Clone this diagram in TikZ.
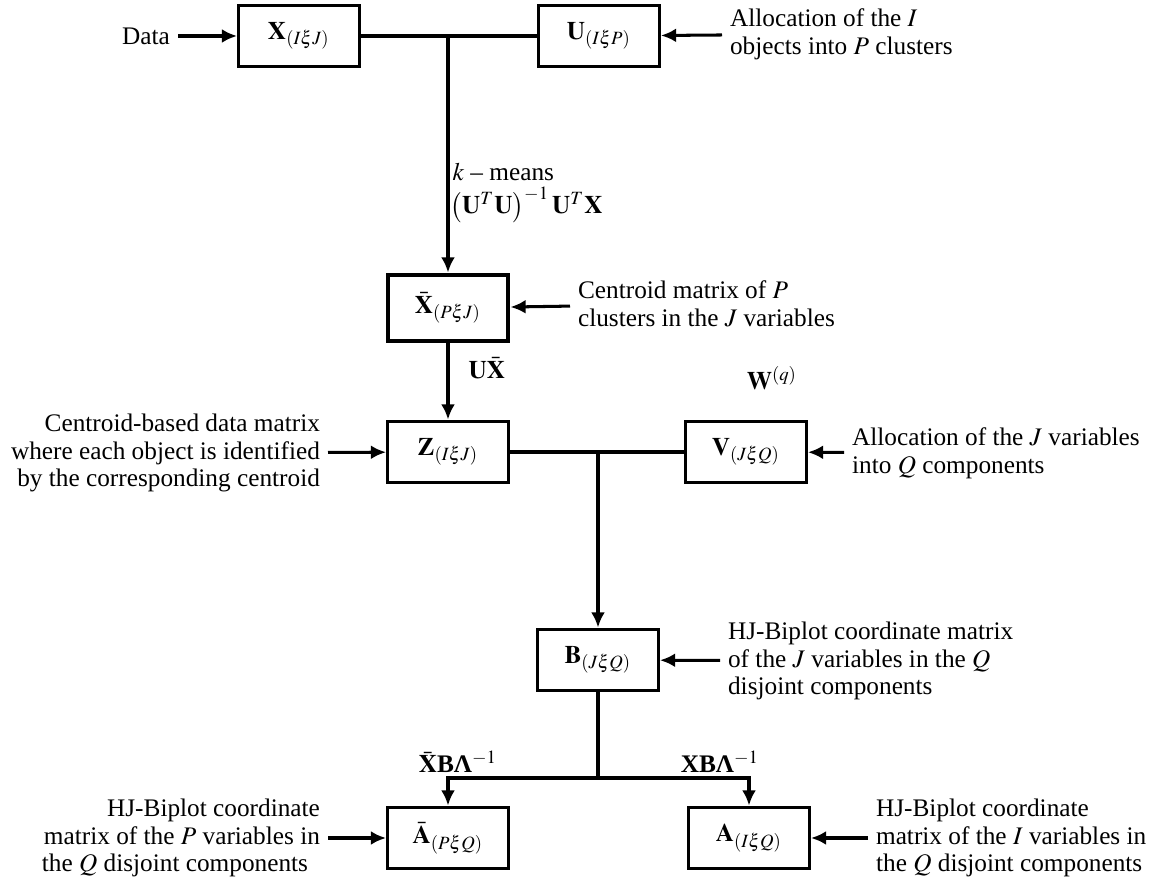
\documentclass[tikz,border=0pt]{standalone}
\usepackage{mathptmx}
\usepackage{fontspec}
\setmainfont{Liberation Serif}
\usepackage{tikz}
\usetikzlibrary{arrows.meta}

\begin{document}
\fontsize{10}{11}\selectfont
\begin{tikzpicture}[x = 0.0139cm, y = -0.0139cm]
        \tikzset{box/.style = {shape=rectangle,draw,very thick,minimum width=1.68cm,minimum height=0.86cm}}
        \tikzset{boxb/.style = {box,line width=1.6pt,minimum height=0.93cm}}
        \tikzset{txt/.style = {align=left,inner sep=3pt}}
        \tikzset{edge/.style = {very thick}}
        \tikzset{edged/.style = {-{Latex[length=6pt,width=5.5pt]}, very thick}}
        \useasboundingbox (0,0) rectangle (1173,887);
        % boxes
        \node[box] (X) at (299,36) {$\mathbf{X}_{(I\xi J)}$};
        \node[box] (U) at (599,36) {$\mathbf{U}_{(I\xi P)}$};
        \node[boxb] (Xb) at (448,308) {$\bar{\mathbf{X}}_{(P\xi J)}$};
        \node[box] (Z) at (448,452) {$\mathbf{Z}_{(I\xi J)}$};
        \node[box] (V) at (746,452) {$\mathbf{V}_{(J\xi Q)}$};
        \node[box] (B) at (598,660) {$\mathbf{B}_{(J\xi Q)}$};
        \node[box] (Ab) at (448,838) {$\bar{\mathbf{A}}_{(P\xi Q)}$};
        \node[box] (A) at (749,838) {$\mathbf{A}_{(I\xi Q)}$};

        % junctions
        \coordinate (j1) at (448,36);
        \coordinate (j2) at (598,452);
        \coordinate (j3) at (598,778);

        % texts
        \node[txt,anchor=east] (tData) at (178,36) {Data};
        \node[txt,anchor=west] (tU) at (722,34) {Allocation of the $I$\\ objects into $P$ clusters};
        \node[txt,anchor=west] (tXb) at (570,304) {Centroid matrix of $P$\\ clusters in the $J$ variables};
        \node[txt,anchor=east,align=right] (tZ) at (328,453) {Centroid-based data matrix\\ where each object is identified\\ by the corresponding centroid};
        \node[txt,anchor=west] (tV) at (844,453) {Allocation of the $J$ variables\\ into $Q$ components};
        \node[txt,anchor=west] (tB) at (720,661) {HJ-Biplot coordinate matrix\\ of the $J$ variables in the $Q$\\ disjoint components};
        \node[txt,anchor=east,align=right] (tAb) at (328,838) {HJ-Biplot coordinate\\ matrix of the $P$ variables in\\ the $Q$ disjoint components\hspace*{4.7pt}};
        \node[txt,anchor=west] (tA) at (868,838) {HJ-Biplot coordinate\\ matrix of the $I$ variables in\\ the $Q$ disjoint components};

        % edge labels
        \node[anchor=west,inner sep=0pt] (lk) at (452,172) {$k$ -- means};
        \node[anchor=west,inner sep=0pt] (lf) at (450,205) {$\left(\mathbf{U}^{T}\mathbf{U}\right)^{-1}\mathbf{U}^{T}\mathbf{X}$};
        \node[anchor=west,inner sep=0pt] (lux) at (468,368) {$\mathbf{U}\bar{\mathbf{X}}$};
        \node[inner sep=0pt] (lw) at (772,378) {$\mathbf{W}^{(q)}$};
        \node[inner sep=0pt] (lab) at (458,762) {$\bar{\mathbf{X}}$\textbf{BΛ}$^{-1}$};
        \node[inner sep=0pt] (la) at (720,762) {\textbf{XBΛ}$^{-1}$};

        %edges undirected
        \draw[edge] (X) to (U);
        \draw[edge] (Z) to (V);
        \draw[edge] (B) to (j3);
        %edges directed
        \draw[edged] (j1) to (Xb);
        \draw[edged] (Xb) to (Z);
        \draw[edged] (j2) to (B);
        \draw[edged] (j3) -| (Ab);
        \draw[edged] (j3) -| (A);
        \draw[edged] (tData) to (X);
        \draw[edged] (tU) to (U);
        \draw[edged] (tXb) to (Xb);
        \draw[edged] (tZ) to (Z);
        \draw[edged] (tV) to (V);
        \draw[edged] (tB) to (B);
        \draw[edged] (tAb) to (Ab);
        \draw[edged] (tA) to (A);
\end{tikzpicture}
\end{document}
